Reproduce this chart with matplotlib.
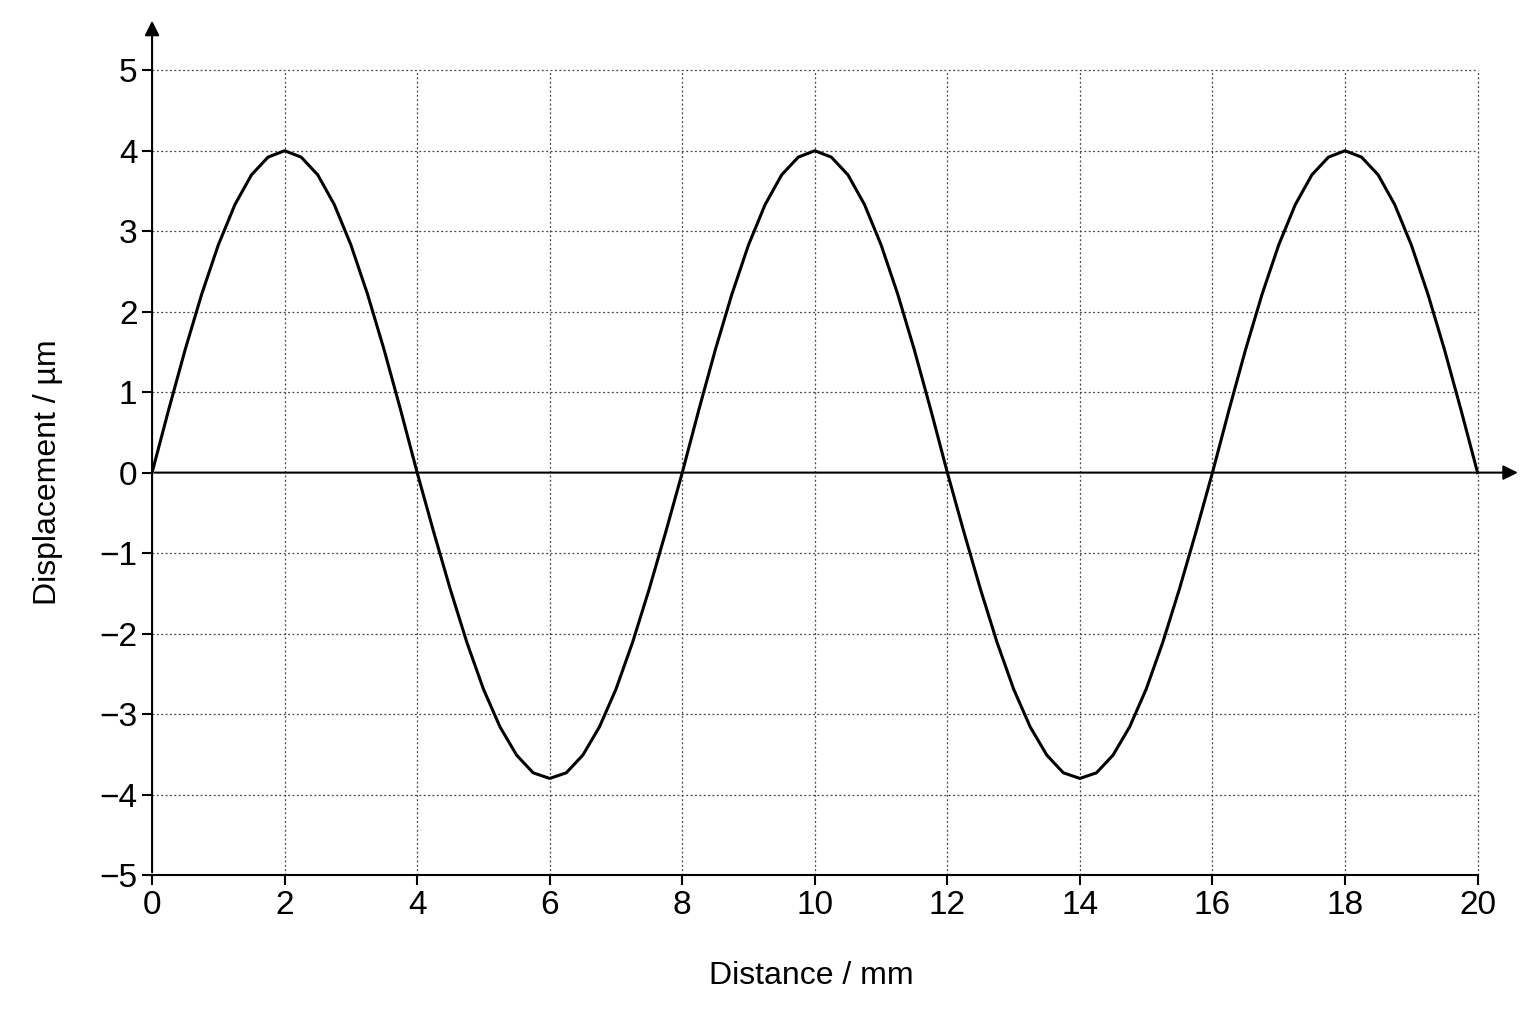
import matplotlib
matplotlib.use("Agg")
import matplotlib.pyplot as plt

plt.rcParams['font.family'] = ['Liberation Sans', 'DejaVu Sans']

distance = [i * 0.25 for i in range(81)]
crest = [0, 0.78, 1.53, 2.22, 2.83, 3.33, 3.70, 3.92, 4.0, 3.92, 3.70, 3.33, 2.83, 2.22, 1.53, 0.78]
trough = [0, -0.74, -1.45, -2.11, -2.69, -3.16, -3.51, -3.73, -3.8, -3.73, -3.51, -3.16, -2.69, -2.11, -1.45, -0.74]
displacement = (crest + trough) * 2 + crest + [0]

xticks = list(range(0, 21, 2))
yticks = list(range(-5, 6))
ytick_labels = [str(v).replace('-', '\u2212') for v in yticks]

fig = plt.figure(figsize=(15.36, 10.24), dpi=100)
ax = fig.add_axes([0.099, 0.1455, 0.891, 0.837])
ax.set_xlim(0, 20.65)
ax.set_ylim(-5, 5.65)

for x in xticks[1:]:
    ax.plot([x, x], [-5, 5], color='#444', lw=0.9, ls=(0, (1.5, 2)), zorder=1)
for y in yticks:
    if y != 0:
        ax.plot([0, 20], [y, y], color='#444', lw=0.9, ls=(0, (1.5, 2)), zorder=1)

ax.plot(distance, displacement, color='black', lw=2.2, zorder=3)

ax.annotate('', xy=(20.65, 0), xytext=(0, 0),
            arrowprops=dict(arrowstyle='-|>', color='black', lw=1.5, mutation_scale=22), zorder=2)
ax.annotate('', xy=(0, 5.65), xytext=(0, -5),
            arrowprops=dict(arrowstyle='-|>', color='black', lw=1.5, mutation_scale=22), zorder=2)

for s in ['top', 'right', 'left']:
    ax.spines[s].set_visible(False)
ax.spines['bottom'].set_bounds(0, 20)
ax.spines['bottom'].set_linewidth(1.5)

ax.set_xticks(xticks)
ax.set_yticks(yticks)
ax.set_yticklabels(ytick_labels)
ax.tick_params(axis='both', labelsize=24, width=1.5, length=7, direction='out')
ax.set_xlabel('Distance / mm', fontsize=23)
ax.set_ylabel('Displacement / µm', fontsize=23)
ax.yaxis.set_label_coords(-0.065, 0.47)
ax.xaxis.set_label_coords(0.482, -0.10)

fig.savefig('out.png', dpi=100, facecolor='white')
